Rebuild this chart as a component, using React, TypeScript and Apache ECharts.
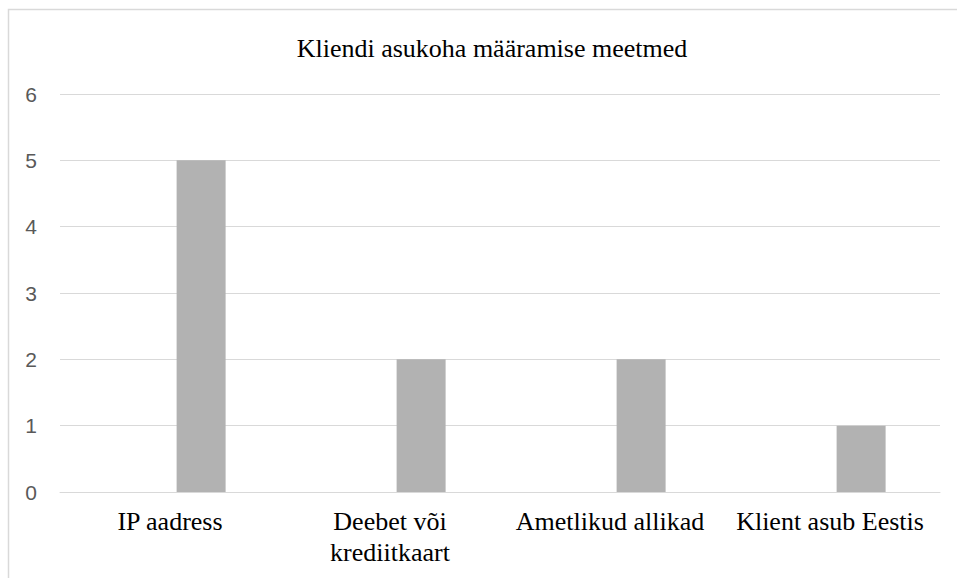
import React, { useEffect, useRef } from "react";
import * as echarts from "echarts";

const chartTitle = "Kliendi asukoha määramise meetmed";
const categories = [
  "IP aadress",
  "Deebet või\nkrediitkaart",
  "Ametlikud allikad",
  "Klient asub Eestis",
];
// The first series is empty in the source workbook; it only reserves its slot in each cluster.
const emptySeries: (number | null)[] = [null, null, null, null];
const countValues = [5, 2, 2, 1];
const yTicks = { min: 0, max: 6, interval: 1 };

export default function App() {
  const ref = useRef<HTMLDivElement>(null);

  useEffect(() => {
    if (!ref.current) return;
    const chart = echarts.init(ref.current, undefined, { renderer: "svg" });
    const serif = "Liberation Serif";
    const sans = "Liberation Sans";
    chart.setOption({
      animation: false,
      backgroundColor: "#ffffff",
      title: {
        text: chartTitle,
        left: 487,
        top: 30,
        textAlign: "center",
        textStyle: {
          fontFamily: serif,
          fontSize: 26,
          fontWeight: "normal",
          color: "#000000",
        },
      },
      graphic: [
        {
          type: "rect",
          shape: { x: 8.5, y: 9.5, width: 1000, height: 700 },
          style: { fill: "none", stroke: "#d9d9d9", lineWidth: 1.5 },
          silent: true,
        },
      ],
      grid: { left: 60, right: 17, top: 94, bottom: 86, containLabel: false },
      xAxis: {
        type: "category",
        data: categories,
        axisLine: { show: true, lineStyle: { color: "#d9d9d9", width: 1 } },
        axisTick: { show: false },
        axisLabel: {
          fontFamily: serif,
          fontSize: 26,
          lineHeight: 31,
          color: "#000000",
          margin: 14,
          interval: 0,
        },
      },
      yAxis: {
        type: "value",
        min: yTicks.min,
        max: yTicks.max,
        interval: yTicks.interval,
        axisLine: { show: false },
        axisTick: { show: false },
        splitLine: { lineStyle: { color: "#d9d9d9", width: 1 } },
        axisLabel: {
          fontFamily: sans,
          fontSize: 21,
          color: "#595959",
          margin: 23,
        },
      },
      series: [
        {
          type: "bar",
          data: emptySeries,
          barWidth: 49,
          barGap: "27%",
          itemStyle: { color: "#7f7f7f" },
        },
        {
          type: "bar",
          data: countValues,
          barWidth: 49,
          barGap: "27%",
          itemStyle: { color: "#b2b2b2" },
        },
      ],
    });
    return () => chart.dispose();
  }, []);

  return (
    <div
      ref={ref}
      style={{ position: "fixed", left: 0, top: 0, width: 957, height: 578 }}
    />
  );
}
